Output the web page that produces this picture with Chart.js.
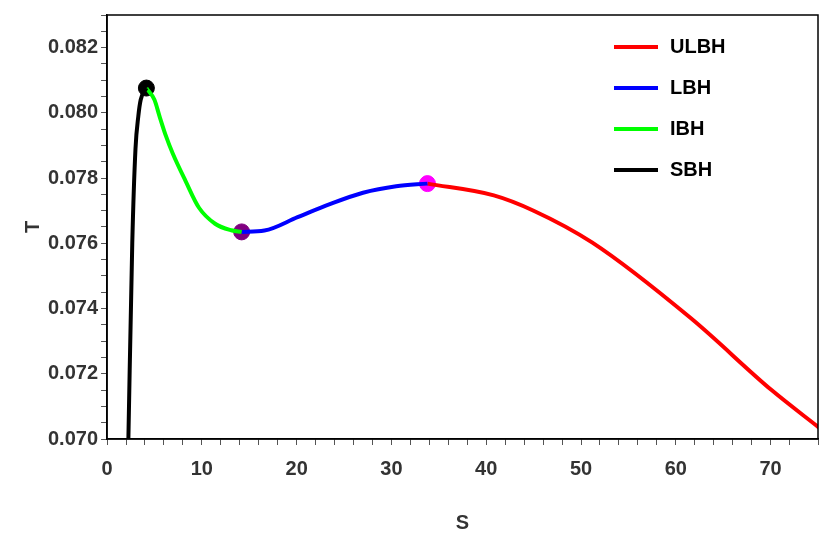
<!DOCTYPE html>
<html><head><meta charset="utf-8">
<script src="https://cdn.jsdelivr.net/npm/chart.js@4"></script>
<style>body{margin:0;background:#fff}#w{width:830px;height:540px}</style>
</head><body><div id="w"><canvas id="c"></canvas></div>
<script>
const sbhS = [2.25, 2.66, 3.0, 3.3, 3.55, 4.15];
const sbhT = [0.0700, 0.0760, 0.0789, 0.0799, 0.0804, 0.08076];
const ibhS = [4.15, 5.0, 5.53, 6.2, 6.92, 8.3, 9.7, 11.4, 13.1, 14.2];
const ibhT = [0.08076, 0.0804, 0.0799, 0.0793, 0.07876, 0.0779, 0.07709, 0.0766, 0.0764, 0.07635];
const lbhS = [14.2, 16.6, 20.1, 23.5, 27.0, 30.5, 33.8];
const lbhT = [0.07635, 0.07639, 0.0768, 0.0772, 0.07755, 0.07775, 0.07783];
const ulbhS = [33.8, 40.8, 45, 51.2, 61.6, 70.1, 75.1];
const ulbhT = [0.07783, 0.07747, 0.0770, 0.07602, 0.0737, 0.0715, 0.07035];
const markS = [4.15, 14.2, 33.8];
const markT = [0.08076, 0.07635, 0.07783];
const markColors = ['#000000', '#800080', '#ff00ff'];
const legendNames = ['ULBH', 'LBH', 'IBH', 'SBH'];
const legendColors = ['#ff0000', '#0000ff', '#00ff00', '#000000'];

const pts = (xs, ys) => xs.map((x, i) => ({x, y: ys[i]}));
const line = (xs, ys, c) => ({type:'line', data: pts(xs, ys), borderColor:c, borderWidth:4, pointRadius:0, cubicInterpolationMode:'monotone', fill:false});
const font = {family:'Liberation Sans, Arial', size:20, weight:'bold'};

const frame = {id:'frame', afterDraw(ch){
  const {ctx, chartArea:a} = ch;
  ctx.save(); ctx.strokeStyle='#000'; ctx.lineWidth=1.5;
  ctx.strokeRect(a.left, a.top, a.right-a.left, a.bottom-a.top);
  ctx.font = 'bold 20px Liberation Sans, Arial'; ctx.textBaseline='middle';
  legendNames.forEach((n,i)=>{
    const y = 47 + i*41;
    ctx.strokeStyle = legendColors[i]; ctx.lineWidth=4;
    ctx.beginPath(); ctx.moveTo(614,y); ctx.lineTo(658,y); ctx.stroke();
    ctx.fillStyle='#000'; ctx.fillText(n, 670, y);
  });
  ctx.restore();
}};

new Chart(document.getElementById('c'), {
  type:'scatter',
  data:{datasets:[
    line(sbhS, sbhT, '#000000'),
    line(ibhS, ibhT, '#00ff00'),
    line(lbhS, lbhT, '#0000ff'),
    line(ulbhS, ulbhT, '#ff0000'),
    {type:'scatter', data: pts(markS, markT), backgroundColor: markColors, borderColor: markColors, pointRadius:8}
  ]},
  options:{
    responsive:true, maintainAspectRatio:false, animation:false,
    layout:{padding:{top:-12, right:1, left:17, bottom:1}},
    plugins:{legend:{display:false}, tooltip:{enabled:false}},
    scales:{
      x:{type:'linear', min:0, max:75,
        ticks:{stepSize:2, autoSkip:false, maxRotation:0, color:'#333', font, padding:12,
          callback:v => (Math.abs(v % 10) < 1e-9 ? String(v) : '')},
        grid:{drawOnChartArea:false, drawTicks:true, tickLength:6, color:'#555'},
        border:{color:'#000', width:1.5},
        title:{display:true, text:'S', color:'#333', font, padding:{top:18}}},
      y:{min:0.070, max:0.083,
        ticks:{stepSize:0.0005, autoSkip:false, color:'#333', font,
          callback:v => { const k = Math.round(v*10000); return (k % 20 === 0) ? v.toFixed(3) : ''; }},
        grid:{drawOnChartArea:false, drawTicks:true, tickLength:6, color:'#555'},
        border:{color:'#000', width:1.5},
        title:{display:true, text:'T', color:'#333', font, padding:{bottom:0}}}
    }
  },
  plugins:[frame]
});
</script></body></html>
